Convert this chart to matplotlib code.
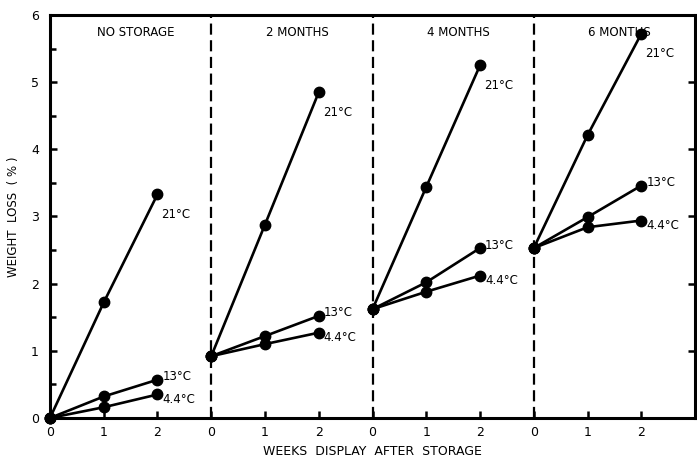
import matplotlib
matplotlib.use('Agg')
import matplotlib.pyplot as plt
import numpy as np

weeks = [0, 1, 2]
panels = ['NO STORAGE', '2 MONTHS', '4 MONTHS', '6 MONTHS']
temps = ['21°C', '13°C', '4.4°C']

loss_21 = [[0, 1.72, 3.33], [0.92, 2.88, 4.85], [1.62, 3.44, 5.25], [2.53, 4.21, 5.72]]
loss_13 = [[0, 0.32, 0.57], [0.92, 1.22, 1.52], [1.62, 2.02, 2.53], [2.53, 2.99, 3.46]]
loss_44 = [[0, 0.16, 0.35], [0.92, 1.10, 1.27], [1.62, 1.88, 2.12], [2.53, 2.84, 2.94]]

plt.rcParams['font.family'] = 'DejaVu Sans'

fig = plt.figure(figsize=(6.97, 4.61), dpi=100)
ax = fig.add_axes([0.0717, 0.0933, 0.9255, 0.8742])

# label offsets in pixels (dx, dy) for each temperature
offsets = {'21°C': (4, -20), '13°C': (5, 3), '4.4°C': (5, -5)}

for k, name in enumerate(panels):
    x = [3 * k + w for w in weeks]
    for temp, series in zip(temps, [loss_21, loss_13, loss_44]):
        y = series[k]
        ax.plot(x, y, color='black', lw=1.9, marker='o', ms=7.5,
                clip_on=False, zorder=3)
        ax.annotate(temp, (x[-1], y[-1]), xytext=offsets[temp],
                    textcoords='offset pixels', ha='left', va='center',
                    fontsize=8.5)
    ax.text(3 * k + 1.6, 5.74, name, ha='center', va='center', fontsize=8.5)
    if k > 0:
        ax.axvline(3 * k, color='black', lw=1.6, ls=(0, (5, 2.5)), zorder=1)

ax.set_xlim(0, 12)
ax.set_ylim(0, 6)

xt = [3 * k + w for k in range(4) for w in weeks]
ax.set_xticks(xt)
ax.set_xticklabels([str(w) for k in range(4) for w in weeks])
ax.set_yticks(range(7))
ax.set_yticks(np.arange(0.5, 6, 1), minor=True)

ax.tick_params(axis='both', which='both', direction='in', width=1.8,
               labelsize=9)
ax.tick_params(axis='x', length=5, pad=6)
ax.tick_params(axis='y', which='major', length=5, pad=8, right=True)
ax.tick_params(axis='y', which='minor', length=4)

for s in ax.spines.values():
    s.set_linewidth(2.2)

ax.set_ylabel('WEIGHT  LOSS  ( % )', fontsize=8.5, labelpad=8)
ax.set_xlabel('WEEKS  DISPLAY  AFTER  STORAGE', fontsize=9, labelpad=4)

fig.savefig('out.png', dpi=100)
